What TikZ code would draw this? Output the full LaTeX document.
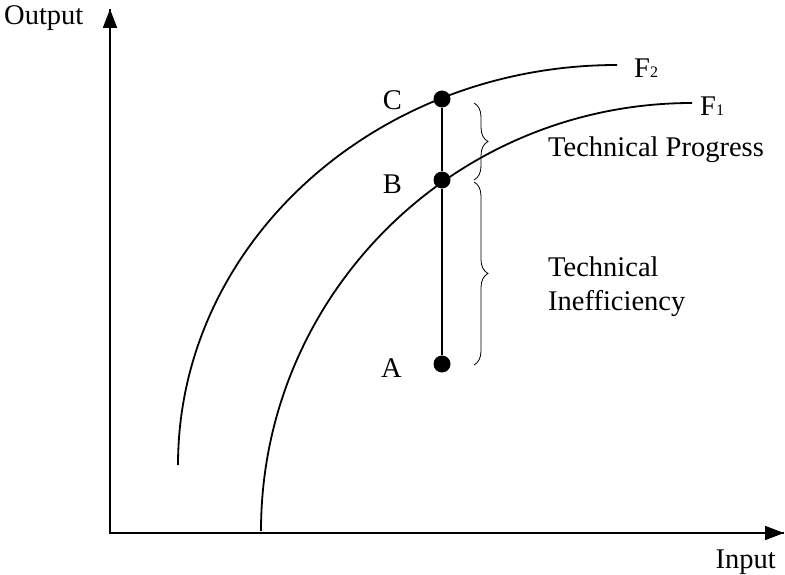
\documentclass[tikz,border=0pt]{standalone}
\usepackage{fontspec}
\setmainfont{Liberation Serif}
\usetikzlibrary{arrows.meta,decorations.pathreplacing}
\tikzset{
  axis/.style={line width=1.8pt,-{Triangle[width=14pt,length=19pt]}},
  curve/.style={line width=1.8pt},
  dot/.style={circle,fill=black,inner sep=0pt,minimum size=17pt},
  lbl/.style={font=\fontsize{28.5}{34}\selectfont,inner sep=0pt},
  bracestyle/.style={line width=0.8pt,decorate,decoration={brace,amplitude=14pt}}
}
\newcommand{\smallsub}[1]{{\fontsize{16}{16}\selectfont #1}}
\begin{document}
\begin{tikzpicture}[x=1pt,y=-1pt]
\useasboundingbox (0,0) rectangle (785,575);
\coordinate (O) at (110,533);
\coordinate (ytop) at (110,9);
\coordinate (xend) at (784,533);
\draw[line width=1.8pt] (ytop) -- (O) -- (xend);
\draw[axis] (O) -- (ytop);
\draw[axis] (O) -- (xend);
\node[lbl,anchor=west] (out) at (4,18) {Output};
\node[lbl,anchor=east] (in) at (776,562) {Input};
% frontiers
\draw[curve] (178,465) arc[start angle=180,end angle=270,x radius=439,y radius=400] coordinate (f2end);
\draw[curve] (261,531) arc[start angle=180,end angle=270,x radius=431,y radius=428] coordinate (f1end);
\node[lbl,anchor=west] (F2) at ([xshift=17pt,yshift=-3pt]f2end) {F\smallsub{2}};
\node[lbl,anchor=west] (F1) at ([xshift=8pt,yshift=-3pt]f1end) {F\smallsub{1}};
% points
\node[dot] (C) at (442,99) {};
\node[dot] (B) at (442,180) {};
\node[dot] (A) at (442,364) {};
\draw[curve] (C) -- (B) -- (A);
\node[lbl,anchor=east] (lC) at (402,100) {C};
\node[lbl,anchor=east] (lB) at (402,184) {B};
\node[lbl,anchor=east] (lA) at (402,368) {A};
% braces
\coordinate (b1t) at (474,103);
\coordinate (b1b) at (474,180);
\coordinate (b2t) at (474,182);
\coordinate (b2b) at (474,365);
\draw[bracestyle] (b1t) -- (b1b);
\draw[bracestyle] (b2t) -- (b2b);
\node[lbl,anchor=west] (tp) at (548,150) {Technical Progress};
\node[lbl,anchor=west,align=left] (ti) at (548,287) {Technical\\Inefficiency};
\end{tikzpicture}
\end{document}
